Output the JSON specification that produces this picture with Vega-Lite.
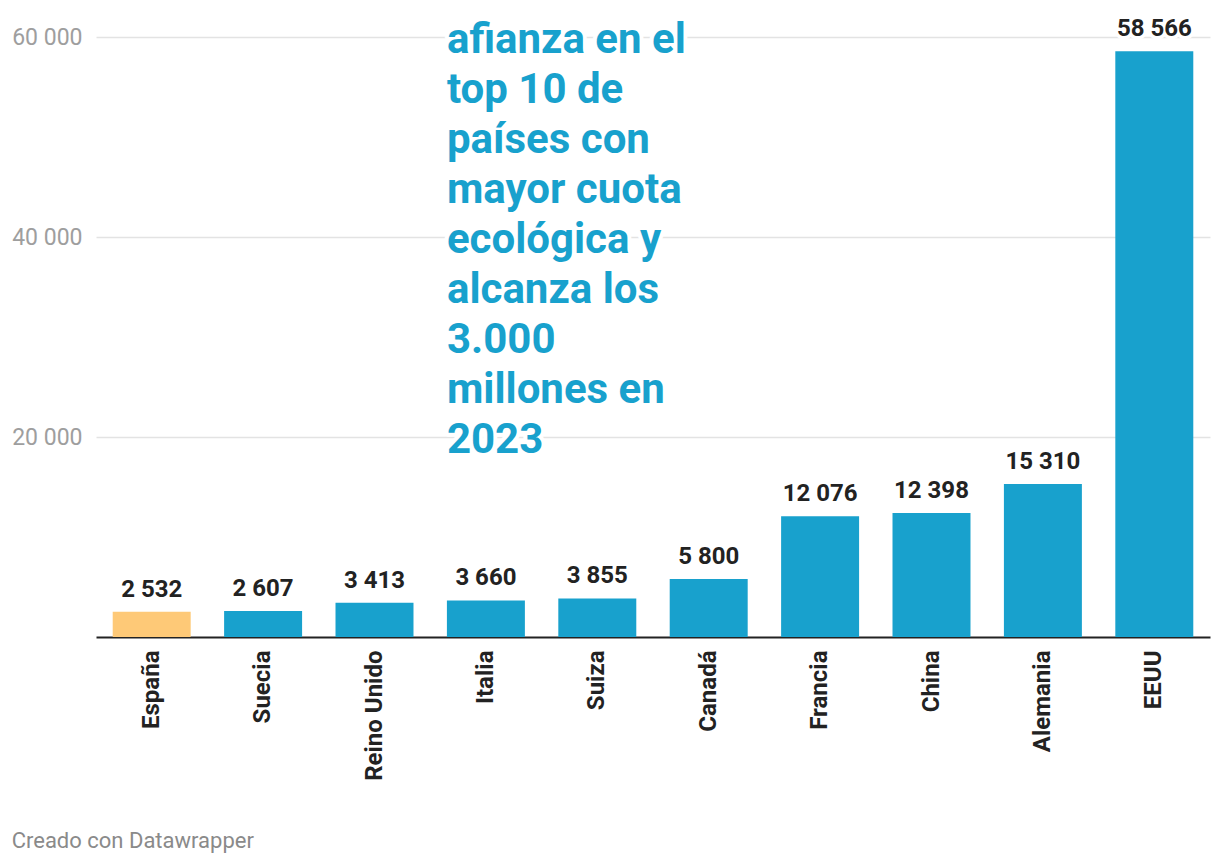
{
  "$schema": "https://vega.github.io/schema/vega-lite/v6.json",
  "width": 1114,
  "height": 600,
  "autosize": {"type": "none"},
  "padding": {"left": 96, "top": 37, "right": 10, "bottom": 225},
  "background": "white",
  "config": {
    "font": "Roboto",
    "view": {"stroke": null},
    "locale": {"number": {"decimal": ",", "thousands": " ", "grouping": [3], "currency": ["", " €"]}}
  },
  "title": {
    "text": "Creado con Datawrapper",
    "orient": "bottom",
    "anchor": "start",
    "frame": "bounds",
    "font": "Roboto",
    "fontSize": 22,
    "fontWeight": "normal",
    "color": "#8a8a8a",
    "offset": 51
  },
  "datasets": {
    "paises": [
      {"pais": "España", "valor": 2532},
      {"pais": "Suecia", "valor": 2607},
      {"pais": "Reino Unido", "valor": 3413},
      {"pais": "Italia", "valor": 3660},
      {"pais": "Suiza", "valor": 3855},
      {"pais": "Canadá", "valor": 5800},
      {"pais": "Francia", "valor": 12076},
      {"pais": "China", "valor": 12398},
      {"pais": "Alemania", "valor": 15310},
      {"pais": "EEUU", "valor": 58566}
    ],
    "titulo": [
      {"pais": "Italia", "valor": 58400, "texto": "afianza en el\ntop 10 de\npaíses con\nmayor cuota\necológica y\nalcanza los\n3.000\nmillones en\n2023"}
    ]
  },
  "data": {"name": "paises"},
  "encoding": {
    "x": {
      "field": "pais",
      "type": "nominal",
      "sort": null,
      "scale": {"paddingInner": 0.3, "paddingOuter": 0.15},
      "axis": {
        "title": null,
        "labelAngle": -90,
        "labelFont": "Roboto",
        "labelFontWeight": "bold",
        "labelFontSize": 24,
        "labelColor": "#222222",
        "labelPadding": 13,
        "ticks": false,
        "domainColor": "#222222",
        "domainWidth": 2,
        "grid": false
      }
    },
    "y": {
      "field": "valor",
      "type": "quantitative",
      "scale": {"domain": [0, 60000], "nice": false},
      "axis": {
        "title": null,
        "values": [20000, 40000, 60000],
        "format": ",d",
        "domain": false,
        "ticks": false,
        "grid": true,
        "gridColor": "#e3e3e3",
        "gridWidth": 1.5,
        "labelFont": "Roboto",
        "labelFontSize": 23,
        "labelColor": "#9e9e9e",
        "labelPadding": 14,
        "zindex": 0
      }
    }
  },
  "layer": [
    {
      "mark": {"type": "bar"},
      "encoding": {
        "color": {
          "condition": {"test": "datum.pais === 'España'", "value": "#fec977"},
          "value": "#18a1cd"
        }
      }
    },
    {
      "mark": {
        "type": "text",
        "baseline": "alphabetic",
        "dy": -15,
        "font": "Roboto",
        "fontWeight": "bold",
        "fontSize": 24,
        "stroke": "white",
        "strokeWidth": 7,
        "strokeJoin": "round",
        "fill": "white"
      },
      "encoding": {"text": {"field": "valor", "type": "quantitative", "format": ",d"}}
    },
    {
      "mark": {
        "type": "text",
        "baseline": "alphabetic",
        "dy": -15,
        "font": "Roboto",
        "fontWeight": "bold",
        "fontSize": 24,
        "fill": "#222222"
      },
      "encoding": {"text": {"field": "valor", "type": "quantitative", "format": ",d"}}
    },
    {
      "data": {"name": "titulo"},
      "mark": {
        "type": "text",
        "align": "left",
        "baseline": "alphabetic",
        "lineBreak": "\n",
        "lineHeight": 50,
        "font": "Roboto",
        "fontWeight": "bold",
        "fontSize": 42,
        "stroke": "white",
        "strokeWidth": 8,
        "strokeJoin": "round",
        "fill": "white"
      },
      "encoding": {
        "x": {"field": "pais", "type": "nominal", "bandPosition": 0},
        "text": {"field": "texto", "type": "nominal"}
      }
    },
    {
      "data": {"name": "titulo"},
      "mark": {
        "type": "text",
        "align": "left",
        "baseline": "alphabetic",
        "lineBreak": "\n",
        "lineHeight": 50,
        "font": "Roboto",
        "fontWeight": "bold",
        "fontSize": 42,
        "fill": "#18a1cd"
      },
      "encoding": {
        "x": {"field": "pais", "type": "nominal", "bandPosition": 0},
        "text": {"field": "texto", "type": "nominal"}
      }
    }
  ]
}
